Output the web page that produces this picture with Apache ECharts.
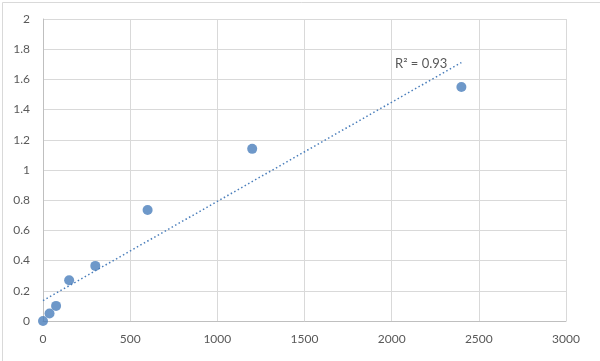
<!DOCTYPE html>
<html>
<head>
<meta charset="utf-8">
<script src="https://cdn.jsdelivr.net/npm/echarts@6/dist/echarts.min.js"></script>
<style>
html,body{margin:0;padding:0;background:#fff;}
#c{width:600px;height:361px;}
</style>
</head>
<body>
<div id="c"></div>
<script>
var xValues = [0, 37.5, 75, 150, 300, 600, 1200, 2400];
var yValues = [0, 0.05, 0.1, 0.27, 0.365, 0.735, 1.14, 1.55];
var r2Label = 'R² = 0.93';

// linear least-squares trendline
var n = xValues.length, sx = 0, sy = 0, sxy = 0, sxx = 0;
for (var i = 0; i < n; i++) { sx += xValues[i]; sy += yValues[i]; sxy += xValues[i]*yValues[i]; sxx += xValues[i]*xValues[i]; }
var slope = (n*sxy - sx*sy) / (n*sxx - sx*sx);
var intercept = (sy - slope*sx) / n;
var xMin = Math.min.apply(null, xValues), xMax = Math.max.apply(null, xValues);
var trend = [[xMin, intercept + slope*xMin], [xMax, intercept + slope*xMax]];
var points = xValues.map(function(x, i){ return [x, yValues[i]]; });

var font = 'Lato, "Open Sans", sans-serif';
var chart = echarts.init(document.getElementById('c'), null, {renderer: 'canvas'});
chart.setOption({
  animation: false,
  backgroundColor: '#fff',
  grid: {left: 43, right: 34, top: 19, bottom: 40, containLabel: false},
  graphic: [{
    type: 'rect', left: 0, top: 0,
    shape: {x: 0.5, y: 0.5, width: 599, height: 360},
    style: {fill: 'none', stroke: '#d9d9d9', lineWidth: 1}, silent: true, z: -1
  }],
  xAxis: {
    type: 'value', min: 0, max: 3000, interval: 500,
    axisLine: {show: true, lineStyle: {color: '#bfbfbf', width: 1}},
    axisTick: {show: false},
    splitLine: {show: true, lineStyle: {color: '#d9d9d9', width: 1}},
    axisLabel: {color: '#595959', fontSize: 12, fontFamily: font, margin: 12,
      formatter: function(v){ return String(v); }}
  },
  yAxis: {
    type: 'value', min: 0, max: 2, interval: 0.2,
    axisLine: {show: true, lineStyle: {color: '#bfbfbf', width: 1}},
    axisTick: {show: false},
    splitLine: {show: true, lineStyle: {color: '#d9d9d9', width: 1}},
    axisLabel: {color: '#595959', fontSize: 12, fontFamily: font, margin: 13,
      formatter: function(v){ return String(Math.round(v*10)/10); }}
  },
  series: [{
    type: 'line', data: trend, symbol: 'none', silent: true,
    lineStyle: {color: '#4a7ebb', width: 1.5, type: [1.5, 2.5]},
    markPoint: {
      symbol: 'circle', symbolSize: 0,
      data: [{coord: trend[1], value: r2Label,
        label: {show: true, position: 'left', distance: 14, offset: [0, 1],
          formatter: r2Label, color: '#595959', fontSize: 13, fontFamily: font}}]
    },
    z: 2
  }, {
    type: 'scatter', data: points, symbol: 'circle', symbolSize: 10,
    itemStyle: {color: '#4a7ebb'}, z: 3
  }]
});
</script>
</body>
</html>
